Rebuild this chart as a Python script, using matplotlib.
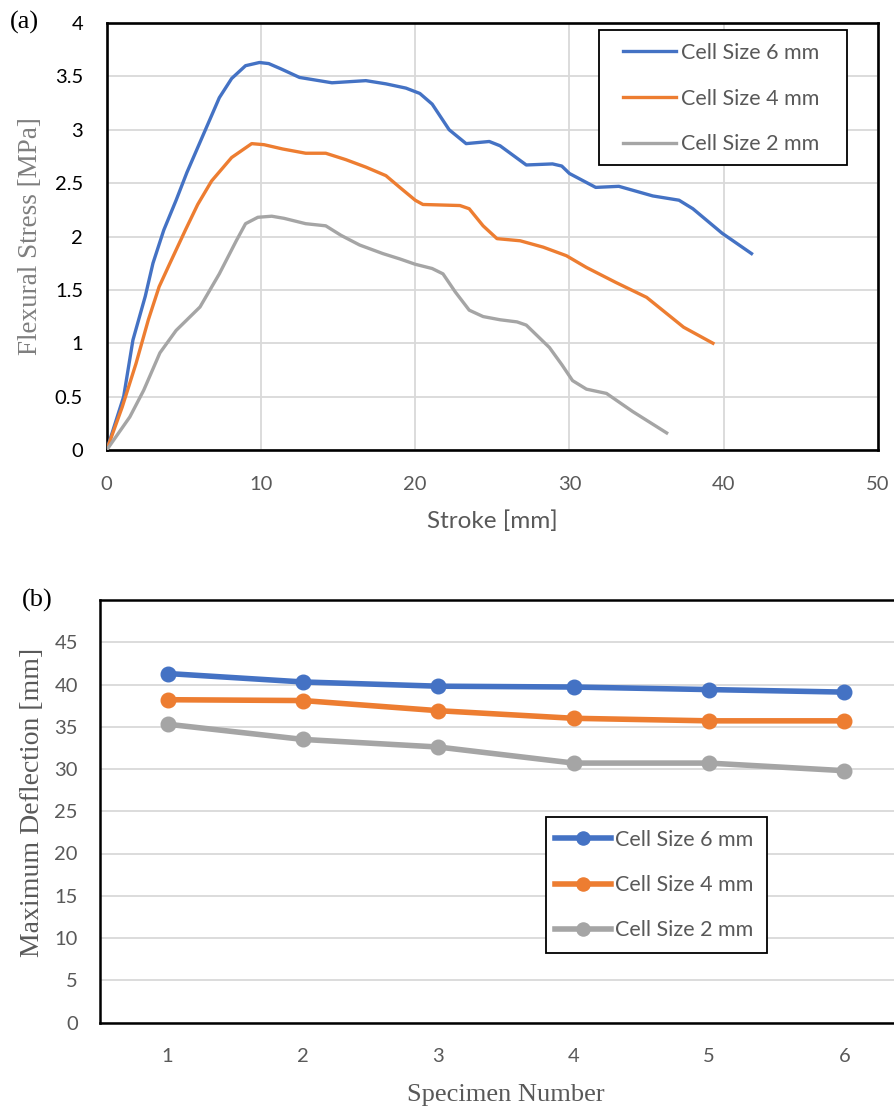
import numpy as np
import matplotlib
matplotlib.use("Agg")
from matplotlib import pyplot as plt
from matplotlib.patches import Rectangle

# (a) stress vs stroke
stroke_6 = [0, 1.1, 1.7, 2.5, 3.0, 3.7, 4.5, 5.2, 6.4, 7.3, 8.1, 9.0, 9.9, 10.5, 11.3, 12.5,
            14.6, 16.8, 18.1, 19.4, 20.3, 21.1, 22.2, 23.3, 24.8, 25.5, 27.2, 28.9, 29.5, 30.0,
            31.7, 33.2, 35.4, 37.1, 38.0, 39.9, 41.8]
stress_6 = [0, 0.5, 1.03, 1.44, 1.75, 2.06, 2.34, 2.6, 3.0, 3.3, 3.48, 3.6, 3.63, 3.62, 3.57, 3.49,
            3.44, 3.46, 3.43, 3.39, 3.34, 3.24, 3.0, 2.87, 2.89, 2.85, 2.67, 2.68, 2.66, 2.59,
            2.46, 2.47, 2.38, 2.34, 2.26, 2.03, 1.84]

stroke_4 = [0, 1.0, 1.9, 2.7, 3.4, 4.1, 5.1, 5.9, 6.8, 8.1, 9.4, 10.2, 11.4, 12.9, 14.2, 15.5,
            16.8, 18.1, 19.0, 20.0, 20.5, 22.9, 23.5, 24.4, 25.3, 26.8, 28.3, 29.8, 31.1, 33.0,
            35.0, 36.2, 37.4, 39.3]
stress_4 = [0, 0.4, 0.81, 1.22, 1.53, 1.75, 2.06, 2.3, 2.52, 2.74, 2.87, 2.86, 2.82, 2.78, 2.78, 2.72,
            2.65, 2.57, 2.46, 2.34, 2.3, 2.29, 2.26, 2.1, 1.98, 1.96, 1.9, 1.82, 1.71, 1.57,
            1.43, 1.29, 1.15, 1.0]

stroke_2 = [0, 1.5, 2.4, 3.45, 4.5, 6.05, 7.3, 8.4, 9.0, 9.8, 10.7, 11.5, 12.9, 14.2, 15.2, 16.4,
            17.9, 19.0, 20.0, 21.1, 21.8, 22.6, 23.5, 24.4, 25.5, 26.6, 27.2, 28.7, 29.5, 30.2,
            31.1, 32.4, 34.1, 36.3]
stress_2 = [0, 0.31, 0.56, 0.91, 1.12, 1.34, 1.65, 1.96, 2.12, 2.18, 2.19, 2.17, 2.12, 2.1, 2.01, 1.92,
            1.84, 1.79, 1.74, 1.70, 1.65, 1.48, 1.31, 1.25, 1.22, 1.2, 1.17, 0.96, 0.8, 0.65,
            0.57, 0.53, 0.36, 0.16]

# (b) maximum deflection per specimen
specimen = [1, 2, 3, 4, 5, 6]
defl_6 = [41.3, 40.3, 39.8, 39.7, 39.4, 39.1]
defl_4 = [38.2, 38.1, 36.9, 36.0, 35.7, 35.7]
defl_2 = [35.3, 33.5, 32.6, 30.7, 30.7, 29.8]

labels = ["Cell Size 6 mm", "Cell Size 4 mm", "Cell Size 2 mm"]
colors = ["#4472C4", "#ED7D31", "#A5A5A5"]
grid_c = "#D9D9D9"
tick_c = "#595959"
serif = "Liberation Serif"
sans = "Lato"

W, H = 895, 1110
fig = plt.figure(figsize=(W / 100, H / 100), dpi=100)


def box(l, t, r, b):
    return [l / W, 1 - b / H, (r - l) / W, (b - t) / H]


def legend_frame(a, l, t, r, b):
    # hand-placed legend border (Excel style), drawn under the legend entries
    a.add_patch(Rectangle((l / W, 1 - b / H), (r - l) / W, (b - t) / H,
                          transform=fig.transFigure, clip_on=False, facecolor="white",
                          edgecolor="black", lw=1.3, zorder=4))


def style_ticks(a, xc, yc, size=14.5):
    for t in a.get_xticklabels():
        t.set_fontfamily(sans); t.set_fontsize(size); t.set_color(xc)
    for t in a.get_yticklabels():
        t.set_fontfamily(sans); t.set_fontsize(size); t.set_color(yc)


# ---- (a)
ax = fig.add_axes(box(106.7, 23, 878, 450))
for x, y, c, lab in zip([stroke_6, stroke_4, stroke_2], [stress_6, stress_4, stress_2], colors, labels):
    ax.plot(x, y, color=c, lw=2.4, label=lab, zorder=3)
ax.set_xlim(0, 50)
ax.set_ylim(0, 4)
ax.set_xticks(np.arange(0, 51, 10))
ax.set_yticks(np.arange(0, 4.01, 0.5))
ax.set_yticklabels(["0", "0.5", "1", "1.5", "2", "2.5", "3", "3.5", "4"])
ax.grid(True, color=grid_c, lw=1.3)
ax.set_axisbelow(True)
for s in ax.spines.values():
    s.set_linewidth(1.9)
    s.set_color("black")
ax.tick_params(axis="x", length=0, pad=19)
ax.tick_params(axis="y", length=0, pad=17)
style_ticks(ax, tick_c, "black")
ax.set_xlabel("Stroke [mm]", fontfamily=sans, fontsize=17.5, color=tick_c, labelpad=12)
ax.set_ylabel("Flexural Stress [MPa]", fontfamily=serif, fontsize=19.5, color="#7F7F7F")
ax.yaxis.set_label_coords((43 - 106.7) / 771.3, 0.5)

legend_frame(ax, 599, 30, 847, 165)
leg = ax.legend(loc="upper left", bbox_to_anchor=(623 / W, 1 - 43 / H), bbox_transform=fig.transFigure,
                prop={"family": sans, "size": 15.5}, frameon=False, handlelength=2.45,
                handletextpad=0.23, borderpad=0, labelspacing=1.19, borderaxespad=0)
leg.set_zorder(6)
for t in leg.get_texts():
    t.set_color(tick_c)
fig.text(10 / W, 1 - 22 / H, "(a)", fontfamily=serif, fontsize=19, va="center", ha="left")

# ---- (b)
bx = fig.add_axes(box(100, 600, 912, 1022.5))
for y, c, lab in zip([defl_6, defl_4, defl_2], colors, labels):
    bx.plot(specimen, y, color=c, lw=4, marker="o", ms=10.5, label=lab, zorder=3)
bx.set_xlim(0.5, 6.5)
bx.set_ylim(0, 50)
bx.set_xticks(specimen)
bx.set_yticks(np.arange(0, 46, 5))
bx.yaxis.grid(True, color=grid_c, lw=1.3)
bx.set_axisbelow(True)
for s in bx.spines.values():
    s.set_linewidth(1.8)
    s.set_color("black")
bx.tick_params(axis="x", length=0, pad=18)
bx.tick_params(axis="y", length=0, pad=16)
style_ticks(bx, tick_c, tick_c)
bx.set_xlabel("Specimen Number", fontfamily=serif, fontsize=19, color=tick_c, labelpad=14)
bx.set_ylabel("Maximum Deflection [mm]", fontfamily=serif, fontsize=20, color=tick_c)
bx.yaxis.set_label_coords((45 - 100) / 812, 0.522)

legend_frame(bx, 546, 817, 767, 953)
leg2 = bx.legend(loc="upper left", bbox_to_anchor=(555 / W, 1 - 830 / H), bbox_transform=fig.transFigure,
                 prop={"family": sans, "size": 15.5}, frameon=False, handlelength=2.6,
                 handletextpad=0.2, borderpad=0, labelspacing=1.17, borderaxespad=0,
                 markerscale=0.9)
leg2.set_zorder(6)
for t in leg2.get_texts():
    t.set_color(tick_c)
fig.text(22 / W, 1 - 600 / H, "(b)", fontfamily=serif, fontsize=19, va="center", ha="left")

fig.savefig("out.png", dpi=100)
